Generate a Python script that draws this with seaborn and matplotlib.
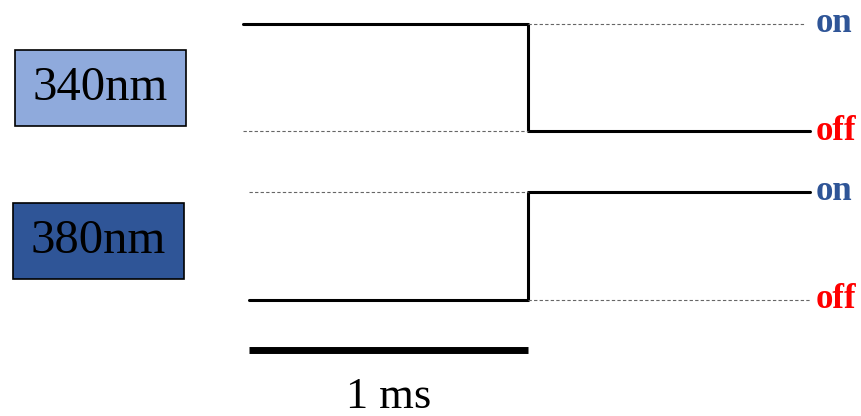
import matplotlib
matplotlib.use("Agg")
import matplotlib.pyplot as plt
import pandas as pd
import seaborn as sns
from matplotlib.patches import Rectangle

# timing data (ms) and shutter state (1 = on, 0 = off)
time_340 = [0.0, 1.0, 1.99]
state_340 = [1, 0, 0]
time_380 = [0.02, 1.0, 1.99]
state_380 = [0, 1, 1]
scale_bar = [0.02, 1.0]
scale_label = "1 ms"
wavelengths = ["340nm", "380nm"]
box_colors = ["#8faadc", "#2f5597"]
on_color = "#2f5597"
off_color = "#ff0000"

sns.set_theme(style="white")
plt.rcParams["font.family"] = ["Liberation Serif", "DejaVu Serif"]
plt.rcParams["text.color"] = "black"

fig = plt.figure(figsize=(8.62, 4.16), dpi=100)
W, H = 862.0, 416.0

# axes placed so that off=0 / on=1 land on the trace levels
ax1 = fig.add_axes([243 / W, 1 - 131 / H, 567 / W, 107 / H])
ax2 = fig.add_axes([243 / W, 1 - 300 / H, 567 / W, 108 / H])

traces = [(ax1, time_340, state_340), (ax2, time_380, state_380)]
for ax, t, s in traces:
    df = pd.DataFrame({"t": t, "state": s})
    sns.lineplot(data=df, x="t", y="state", estimator=None, sort=False,
                 drawstyle="steps-post", color="black", linewidth=2.2,
                 ax=ax, clip_on=False)
    ax.set_xlim(0, 1.99)
    ax.set_ylim(0, 1)
    ax.set_axis_off()

# dashed reference levels where the signal is not
dash = dict(colors="#666666", linewidths=0.8, linestyles=(0, (3, 2)), clip_on=False)
ax1.hlines(0, time_340[0], time_340[1], **dash)
ax1.hlines(1, time_340[1], 1.97, **dash)
ax2.hlines(1, time_380[0], time_380[1], **dash)
ax2.hlines(0, time_380[1], time_380[2], **dash)

# on / off labels
for ax in (ax1, ax2):
    ax.text(2.01, 1, "on", color=on_color, fontsize=25, fontweight="bold",
            ha="left", va="center", clip_on=False)
    ax.text(2.01, 0, "off", color=off_color, fontsize=25, fontweight="bold",
            ha="left", va="center", clip_on=False)

# scale bar
ax2.plot(scale_bar, [-0.46, -0.46], color="black", linewidth=5,
         solid_capstyle="butt", clip_on=False)
ax2.text(sum(scale_bar) / 2, -1.0, scale_label, fontsize=32,
         ha="center", va="baseline", color="black", clip_on=False)

# wavelength boxes
boxes = [(15, 50), (13, 203)]
for (bx, by), label, col in zip(boxes, wavelengths, box_colors):
    fig.patches.append(Rectangle((bx / W, 1 - (by + 76) / H), 171 / W, 76 / H,
                                 transform=fig.transFigure, facecolor=col,
                                 edgecolor="black", linewidth=1.2))
    fig.text((bx + 85.5) / W, 1 - (by + 38) / H, label, fontsize=35,
             ha="center", va="center", color="black")

fig.savefig("out.png", dpi=100)
